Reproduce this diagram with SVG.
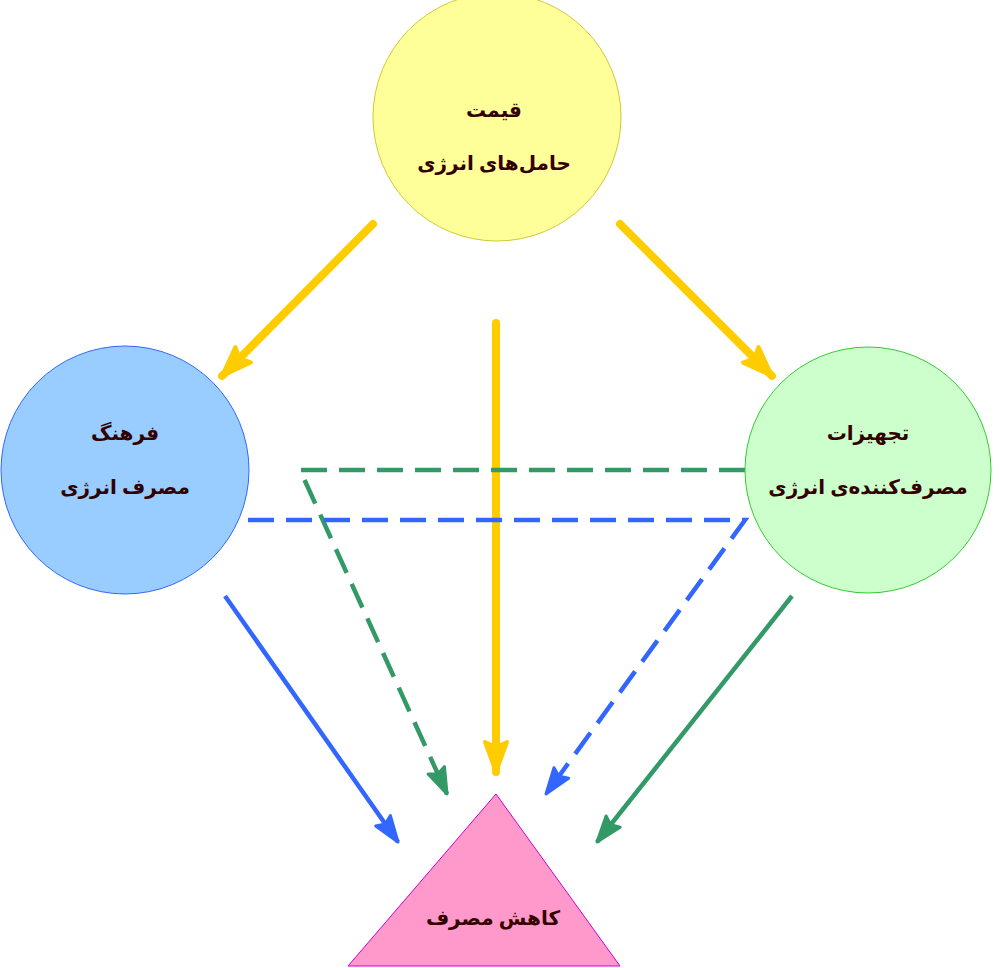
<svg xmlns="http://www.w3.org/2000/svg" width="1000" height="968" viewBox="0 0 1000 968">
<style>
text{font-family:"Noto Sans","DejaVu Sans",sans-serif;font-weight:bold;font-size:20px;fill:#330000;text-anchor:middle}
.y{stroke:#ffcc00;stroke-width:8;fill:none;stroke-linecap:round}
.b{stroke:#3366ff;stroke-width:4.5;fill:none}
.g{stroke:#339966;stroke-width:4.5;fill:none}
.d{stroke-dasharray:26 12}
</style>
<defs>
<marker id="ay" markerUnits="userSpaceOnUse" markerWidth="40" markerHeight="40" refX="32" refY="14" orient="auto" overflow="visible"><path d="M2,3 L32,14 L2,25 L7,14 Z" fill="#ffcc00" stroke="#ffcc00" stroke-width="4" stroke-linejoin="round"/></marker>
<marker id="ab" markerUnits="userSpaceOnUse" markerWidth="40" markerHeight="40" refX="28" refY="11" orient="auto" overflow="visible"><path d="M2,2 L28,11 L2,20 L6,11 Z" fill="#3366ff" stroke="#3366ff" stroke-width="3" stroke-linejoin="round"/></marker>
<marker id="ag" markerUnits="userSpaceOnUse" markerWidth="40" markerHeight="40" refX="28" refY="11" orient="auto" overflow="visible"><path d="M2,2 L28,11 L2,20 L6,11 Z" fill="#339966" stroke="#339966" stroke-width="3" stroke-linejoin="round"/></marker>
</defs>
<g id="connectors">
<path class="y" d="M373,224 L222,376" marker-end="url(#ay)"/>
<path class="y" d="M620,224 L772,376" marker-end="url(#ay)"/>
<path class="y" d="M496,323 L496,772" marker-end="url(#ay)"/>
<path class="b" d="M225,596 L398,842" marker-end="url(#ab)"/>
<path class="g" d="M792,596 L597,842" marker-end="url(#ag)"/>
<path class="g d" d="M745,470 L300,470 L447,794" marker-end="url(#ag)"/>
<path class="b d" d="M248,520 L745,520 L546,794" marker-end="url(#ab)"/>
</g>
<g id="price"><circle cx="497" cy="117" r="124" fill="#ffff99" stroke="#cccc33"/><text x="494" y="117">قیمت</text><text x="494" y="170">حامل‌های انرژی</text></g>
<g id="culture"><circle cx="125" cy="470" r="124" fill="#99ccff" stroke="#3366ff"/><text x="125" y="440">فرهنگ</text><text x="125" y="494">مصرف انرژی</text></g>
<g id="equipment"><circle cx="868" cy="470" r="123" fill="#ccffcc" stroke="#33cc33"/><text x="868" y="440">تجهیزات</text><text x="868" y="494">مصرف‌کننده‌ی انرژی</text></g>
<g id="reduce"><polygon points="496,794 620,966 348,966" fill="#ff99cc" stroke="#cc00cc"/><text x="493" y="925">کاهش مصرف</text></g>
</svg>
